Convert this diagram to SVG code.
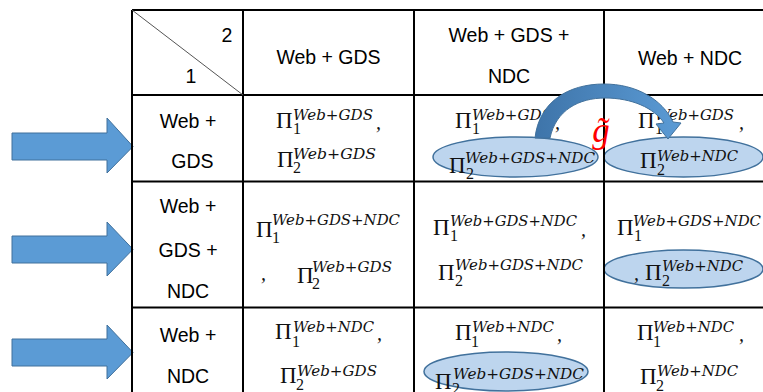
<svg xmlns="http://www.w3.org/2000/svg" width="763" height="392" viewBox="0 0 763 392">
<style>
.grid{stroke:#000;stroke-width:2;fill:none}
.hd{font-family:"Liberation Sans",Arial,sans-serif;font-size:19.5px;fill:#000;text-anchor:middle}
.pi{font-family:"Liberation Serif","Times New Roman",serif;font-size:23px;fill:#111}
.sup{font-family:"DejaVu Serif",serif;font-style:italic;font-size:15.5px;fill:#111}
.sub{font-family:"Liberation Serif","Times New Roman",serif;font-size:16px;fill:#111}
.cm{font-family:"Liberation Serif","Times New Roman",serif;font-style:italic;font-size:20px;fill:#111}
.oval{fill:#BDD5EE;stroke:#41719C;stroke-width:1.5}
.bigarrow{fill:#5B9BD5;stroke:#41719C;stroke-width:1}
</style>
<defs>
<linearGradient id="cg" x1="0" y1="0" x2="1" y2="0">
<stop offset="0" stop-color="#3E74A9"/>
<stop offset="1" stop-color="#5B9BD5"/>
</linearGradient>
</defs>
<rect width="763" height="392" fill="#fff"/>

<g id="arrows-left">
<path class="bigarrow" d="M12,133 L107,133 L107,118 L133,146.5 L107,173 L107,160 L12,160 Z"/>
<path class="bigarrow" d="M12,236 L107,236 L107,222 L133,249.3 L107,276 L107,263 L12,263 Z"/>
<path class="bigarrow" d="M12,339 L107,339 L107,325 L133,352.5 L107,379 L107,366 L12,366 Z"/>
</g>

<g id="ovals">
<ellipse class="oval" cx="515.5" cy="157" rx="82.5" ry="20"/>
<ellipse class="oval" cx="683.5" cy="157" rx="79.5" ry="20"/>
<ellipse class="oval" cx="683.5" cy="269" rx="79.5" ry="19"/>
<ellipse class="oval" cx="506" cy="371.5" rx="82" ry="19.5"/>
</g>

<g id="table">
<path class="grid" d="M132,10 H763 M132,95 H763 M132,181.5 H763 M132,307.5 H763 M132,10 V392 M243,10 V392 M414,10 V392 M604,10 V392"/>
<line x1="132" y1="10" x2="243" y2="95" stroke="#555" stroke-width="1"/>
</g>

<g id="headers">
<text class="hd" x="227" y="42">2</text>
<text class="hd" x="191" y="83">1</text>
<text class="hd" x="328.5" y="64">Web + GDS</text>
<text class="hd" x="509" y="42">Web + GDS +</text>
<text class="hd" x="509" y="83">NDC</text>
<text class="hd" x="690" y="65">Web + NDC</text>
<text class="hd" x="188" y="128">Web +</text>
<text class="hd" x="192.5" y="168">GDS</text>
<text class="hd" x="188" y="213">Web +</text>
<text class="hd" x="188" y="257">GDS +</text>
<text class="hd" x="188" y="298">NDC</text>
<text class="hd" x="188" y="342">Web +</text>
<text class="hd" x="188" y="383">NDC</text>
</g>

<g id="r1c1">
<text class="pi" x="276" y="128">Π</text><text class="sup" x="293" y="120" textLength="80" lengthAdjust="spacingAndGlyphs">Web+GDS</text><text class="sub" x="293" y="134">1</text><text class="cm" x="376" y="129">,</text>
<text class="pi" x="277" y="167">Π</text><text class="sup" x="293" y="159" textLength="83" lengthAdjust="spacingAndGlyphs">Web+GDS</text><text class="sub" x="293" y="173">2</text>
</g>
<g id="r1c2">
<text class="pi" x="455" y="128">Π</text><text class="sup" x="472" y="120" textLength="80" lengthAdjust="spacingAndGlyphs">Web+GDS</text><text class="sub" x="472" y="134">1</text><text class="cm" x="555" y="129">,</text>
<text class="pi" x="449" y="173">Π</text><text class="sup" x="465" y="163" textLength="130" lengthAdjust="spacingAndGlyphs">Web+GDS+NDC</text><text class="sub" x="466" y="179">2</text>
</g>
<g id="r1c3">
<text class="pi" x="638" y="128">Π</text><text class="sup" x="655" y="120" textLength="79" lengthAdjust="spacingAndGlyphs">Web+GDS</text><text class="sub" x="655" y="134">1</text><text class="cm" x="739" y="129">,</text>
<text class="pi" x="640" y="168">Π</text><text class="sup" x="657" y="161" textLength="81" lengthAdjust="spacingAndGlyphs">Web+NDC</text><text class="sub" x="657" y="175">2</text>
</g>
<g id="r2c1">
<text class="pi" x="256" y="237">Π</text><text class="sup" x="272" y="225" textLength="128" lengthAdjust="spacingAndGlyphs">Web+GDS+NDC</text><text class="sub" x="272" y="243">1</text>
<text class="cm" x="261" y="280">,</text>
<text class="pi" x="297" y="283">Π</text><text class="sup" x="312" y="272" textLength="80" lengthAdjust="spacingAndGlyphs">Web+GDS</text><text class="sub" x="312" y="289">2</text>
</g>
<g id="r2c2">
<text class="pi" x="433" y="235">Π</text><text class="sup" x="450" y="226" textLength="127" lengthAdjust="spacingAndGlyphs">Web+GDS+NDC</text><text class="sub" x="450" y="241">1</text><text class="cm" x="581" y="236">,</text>
<text class="pi" x="438" y="280">Π</text><text class="sup" x="455" y="270" textLength="128" lengthAdjust="spacingAndGlyphs">Web+GDS+NDC</text><text class="sub" x="455" y="286">2</text>
</g>
<g id="r2c3">
<text class="pi" x="617" y="235">Π</text><text class="sup" x="633" y="226" textLength="128" lengthAdjust="spacingAndGlyphs">Web+GDS+NDC</text><text class="sub" x="634" y="241">1</text>
<text class="cm" x="634" y="280">,</text>
<text class="pi" x="645" y="280">Π</text><text class="sup" x="662" y="271" textLength="81" lengthAdjust="spacingAndGlyphs">Web+NDC</text><text class="sub" x="662" y="286">2</text>
</g>
<g id="r3c1">
<text class="pi" x="275" y="339">Π</text><text class="sup" x="293" y="332" textLength="81" lengthAdjust="spacingAndGlyphs">Web+NDC</text><text class="sub" x="292" y="347">1</text><text class="cm" x="377" y="340">,</text>
<text class="pi" x="280" y="383">Π</text><text class="sup" x="297" y="376" textLength="80" lengthAdjust="spacingAndGlyphs">Web+GDS</text><text class="sub" x="296" y="390">2</text>
</g>
<g id="r3c2">
<text class="pi" x="455" y="340">Π</text><text class="sup" x="472" y="332" textLength="82" lengthAdjust="spacingAndGlyphs">Web+NDC</text><text class="sub" x="471" y="347">1</text><text class="cm" x="557" y="341">,</text>
<text class="pi" x="435" y="389">Π</text><text class="sup" x="453" y="379" textLength="131" lengthAdjust="spacingAndGlyphs">Web+GDS+NDC</text><text class="sub" x="452" y="394">2</text>
</g>
<g id="r3c3">
<text class="pi" x="637" y="340">Π</text><text class="sup" x="653" y="332" textLength="81" lengthAdjust="spacingAndGlyphs">Web+NDC</text><text class="sub" x="653" y="347">1</text><text class="cm" x="739" y="341">,</text>
<text class="pi" x="640" y="384">Π</text><text class="sup" x="657" y="376" textLength="81" lengthAdjust="spacingAndGlyphs">Web+NDC</text><text class="sub" x="656" y="391">2</text>
</g>

<g id="connectors">
<path d="M535,138 C539,102 568,84 604,84 C636,84 662,99 673,122 L681,123 L668,139 L656,124 L664,123 C654,108 632,98 605,98 C579,98 556,110 550,138 Z" fill="url(#cg)" stroke="#41719C" stroke-width="1"/>
</g>
<g id="label-g">
<text x="601" y="142" text-anchor="middle" font-family="'Liberation Serif','Times New Roman',serif" font-style="italic" font-size="35" fill="#FF0000">g̃</text>
</g>
</svg>
